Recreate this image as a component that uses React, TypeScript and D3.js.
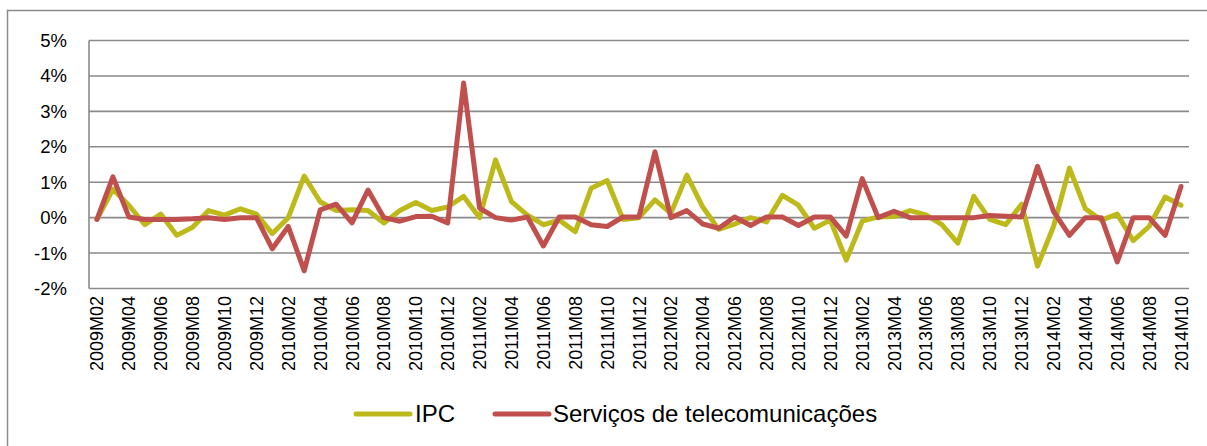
import * as d3 from 'd3';

const START_YEAR = 2009;
const START_MONTH = 2;
const N_MONTHS = 69;

// month labels 2009M02 .. 2014M10
const months: string[] = Array.from({ length: N_MONTHS }, (_, i) => {
  const m0 = START_MONTH - 1 + i;
  const y = START_YEAR + Math.floor(m0 / 12);
  const m = (m0 % 12) + 1;
  return `${y}M${String(m).padStart(2, '0')}`;
});

const ipc = [
  -0.05, 0.8, 0.35, -0.2, 0.1, -0.5, -0.27, 0.2, 0.07, 0.25, 0.1,
  -0.45, 0.0, 1.17, 0.45, 0.2, 0.22, 0.2, -0.15, 0.2, 0.43, 0.2, 0.3,
  0.6, 0.0, 1.63, 0.45, 0.07, -0.2, -0.07, -0.4, 0.83, 1.05, -0.05, 0.0,
  0.5, 0.12, 1.2, 0.3, -0.33, -0.18, 0.0, -0.12, 0.63, 0.35, -0.3, -0.07,
  -1.2, -0.1, 0.02, 0.03, 0.2, 0.08, -0.2, -0.72, 0.6, -0.05, -0.2, 0.38,
  -1.37, -0.25, 1.4, 0.25, -0.07, 0.1, -0.65, -0.25, 0.58, 0.35,
];

const telecom = [
  -0.05, 1.15, 0.02, -0.05, -0.05, -0.05, -0.03, 0.0, -0.05, 0.0, 0.0,
  -0.88, -0.25, -1.5, 0.22, 0.38, -0.15, 0.78, 0.0, -0.1, 0.03, 0.04, -0.15,
  3.8, 0.27, 0.0, -0.07, 0.02, -0.8, 0.02, 0.02, -0.2, -0.25, 0.02, 0.02,
  1.86, 0.0, 0.2, -0.18, -0.3, 0.02, -0.22, 0.02, 0.02, -0.22, 0.02, 0.02,
  -0.52, 1.1, 0.0, 0.18, 0.0, 0.0, 0.0, 0.0, 0.0, 0.06, 0.04, 0.02,
  1.45, 0.18, -0.5, 0.0, 0.0, -1.25, 0.0, 0.0, -0.5, 0.88,
];

const yTicks = [-2, -1, 0, 1, 2, 3, 4, 5];

const seriesNames = ['IPC', 'Serviços de telecomunicações'];
const seriesColors = ['#BDB91B', '#C0504D'];

const W = 1207;
const H = 446;
const PLOT = { left: 89, right: 1189, top: 40.5, bottom: 288.5 };
const FONT = 'Liberation Sans, Arial, sans-serif';
const GRID = '#8a8a8a';

export default function App() {
  const x = d3.scalePoint<string>().domain(months).range([PLOT.left, PLOT.right]).padding(0.5);
  const y = d3.scaleLinear().domain([-2, 5]).range([PLOT.bottom, PLOT.top]);

  const line = d3
    .line<number>()
    .x((_, i) => x(months[i]) as number)
    .y((d) => y(d));

  const labelled = months.filter((_, i) => i % 2 === 0);

  return (
    <svg
      width={W}
      height={H}
      style={{ position: 'absolute', left: 0, top: 0, background: '#fff' }}
      fontFamily={FONT}
    >
      {/* outer frame */}
      <rect x={7.5} y={10.5} width={1210} height={450} fill="none" stroke={GRID} strokeWidth={1.5} />

      {/* gridlines */}
      {yTicks.map((t) => (
        <line key={t} x1={PLOT.left} x2={PLOT.right} y1={y(t)} y2={y(t)} stroke={GRID} strokeWidth={1.6} />
      ))}
      <line x1={PLOT.left} x2={PLOT.left} y1={PLOT.top} y2={PLOT.bottom} stroke={GRID} strokeWidth={1.6} />

      {/* y labels */}
      {yTicks.map((t) => (
        <text key={t} x={67} y={y(t)} dy="0.35em" textAnchor="end" fontSize={18.5} fill="#000">
          {`${t}%`}
        </text>
      ))}

      {/* x labels */}
      {labelled.map((m) => (
        <text
          key={m}
          transform={`translate(${(x(m) as number) + 6.5},296) rotate(-90)`}
          textAnchor="end"
          fontSize={18}
          fill="#000"
        >
          {m}
        </text>
      ))}

      {/* lines */}
      <path d={line(ipc) ?? ''} fill="none" stroke={seriesColors[0]} strokeWidth={5} strokeLinejoin="round" strokeLinecap="round" />
      <path d={line(telecom) ?? ''} fill="none" stroke={seriesColors[1]} strokeWidth={5} strokeLinejoin="round" strokeLinecap="round" />

      {/* legend */}
      <g transform="translate(356,414)">
        <line x1={0} x2={54} y1={0} y2={0} stroke={seriesColors[0]} strokeWidth={5} strokeLinecap="round" />
        <text x={59} y={0} dy="0.35em" fontSize={24}>{seriesNames[0]}</text>
        <line x1={139} x2={193} y1={0} y2={0} stroke={seriesColors[1]} strokeWidth={5} strokeLinecap="round" />
        <text x={197} y={0} dy="0.35em" fontSize={24}>{seriesNames[1]}</text>
      </g>
    </svg>
  );
}
